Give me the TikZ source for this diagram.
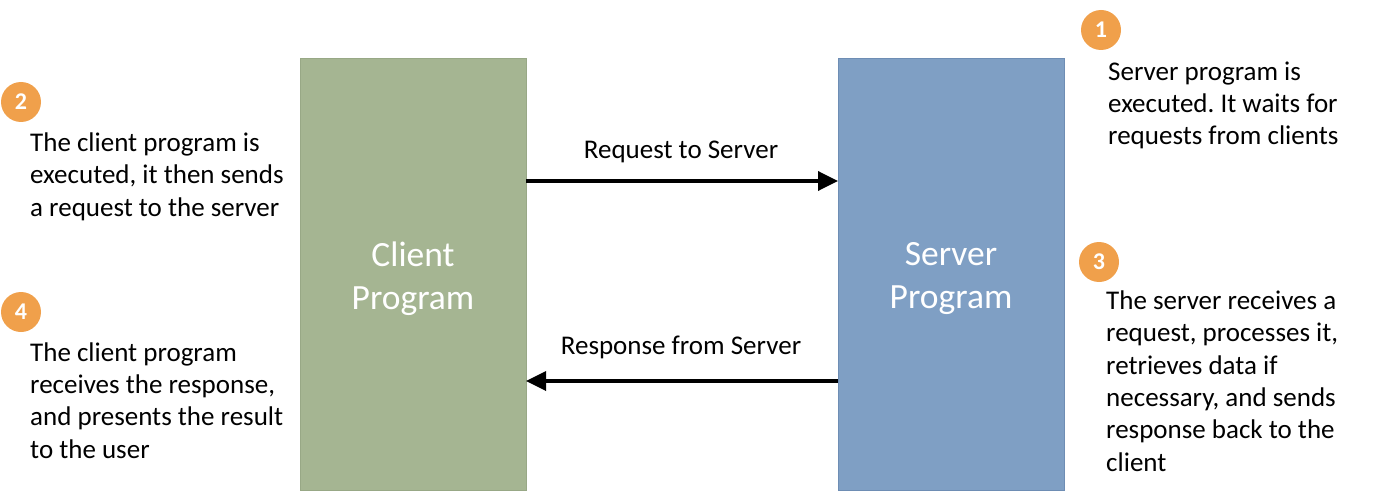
\documentclass[tikz,border=0pt]{standalone}
\usepackage{fontspec}
\setmainfont{Carlito}
\usetikzlibrary{arrows.meta}
\definecolor{clientfill}{HTML}{A5B592}
\definecolor{clientdraw}{HTML}{98A886}
\definecolor{serverfill}{HTML}{7F9FC4}
\definecolor{serverdraw}{HTML}{6E8DB4}
\definecolor{badge}{HTML}{F0A04B}
\tikzset{
  prog/.style={draw, line width=1pt, minimum width=226pt, minimum height=432pt, inner sep=0pt},
  proglabel/.style={text=white, align=center, font=\fontsize{35.5}{43}\selectfont, inner sep=0pt},
  desc/.style={anchor=base west, align=left, inner sep=0pt, font=\fontsize{27}{32.3}\selectfont},
  arrowlabel/.style={anchor=base, inner sep=0pt, font=\fontsize{27}{30}\selectfont},
  num/.style={circle, fill=badge, minimum size=40pt, inner sep=0pt, text=white, font=\fontsize{24}{24}\selectfont\bfseries},
  conn/.style={line width=3.5pt, -{Triangle[length=20pt, width=19pt]}}
}
\begin{document}
\frenchspacing
\begin{tikzpicture}[x=1pt, y=-1pt]
\useasboundingbox (0,0) rectangle (1376,492);
\node[prog, fill=clientfill, draw=clientdraw, anchor=north west] (client) at (300,58) {};
\node[prog, fill=serverfill, draw=serverdraw, anchor=north west] (server) at (838,58) {};
\node[proglabel] (clientlbl) at (413,279) {Client\\Program};
\node[proglabel] (serverlbl) at (951,279) {Server\\Program};

\coordinate (reqS) at (526,181);
\coordinate (reqE) at (838,181);
\coordinate (resS) at (838,381);
\coordinate (resE) at (526,381);
\draw[conn] (reqS) -- (reqE);
\draw[conn] (resS) -- (resE);
\node[arrowlabel] (reqlbl) at (681,158) {Request to Server};
\node[arrowlabel] (reslbl) at (681,354) {Response from Server};

\node[num] (n1) at (1101,30) {1};
\node[num] (n2) at (21,102) {2};
\node[num] (n3) at (1099,262) {3};
\node[num] (n4) at (21,312) {4};

\node[desc] (d1) at (1108,145) {Server program is\\executed. It waits for\\requests from clients};
\node[desc] (d2) at (30,216) {The client program is\\executed, it then sends\\a request to the server};
\node[desc] (d3) at (1106,471) {The server receives a\\request, processes it,\\retrieves data if\\necessary, and sends\\response back to the\\client};
\node[desc] (d4) at (30,458) {The client program\\receives the response,\\and presents the result\\to the user};
\end{tikzpicture}
\end{document}
